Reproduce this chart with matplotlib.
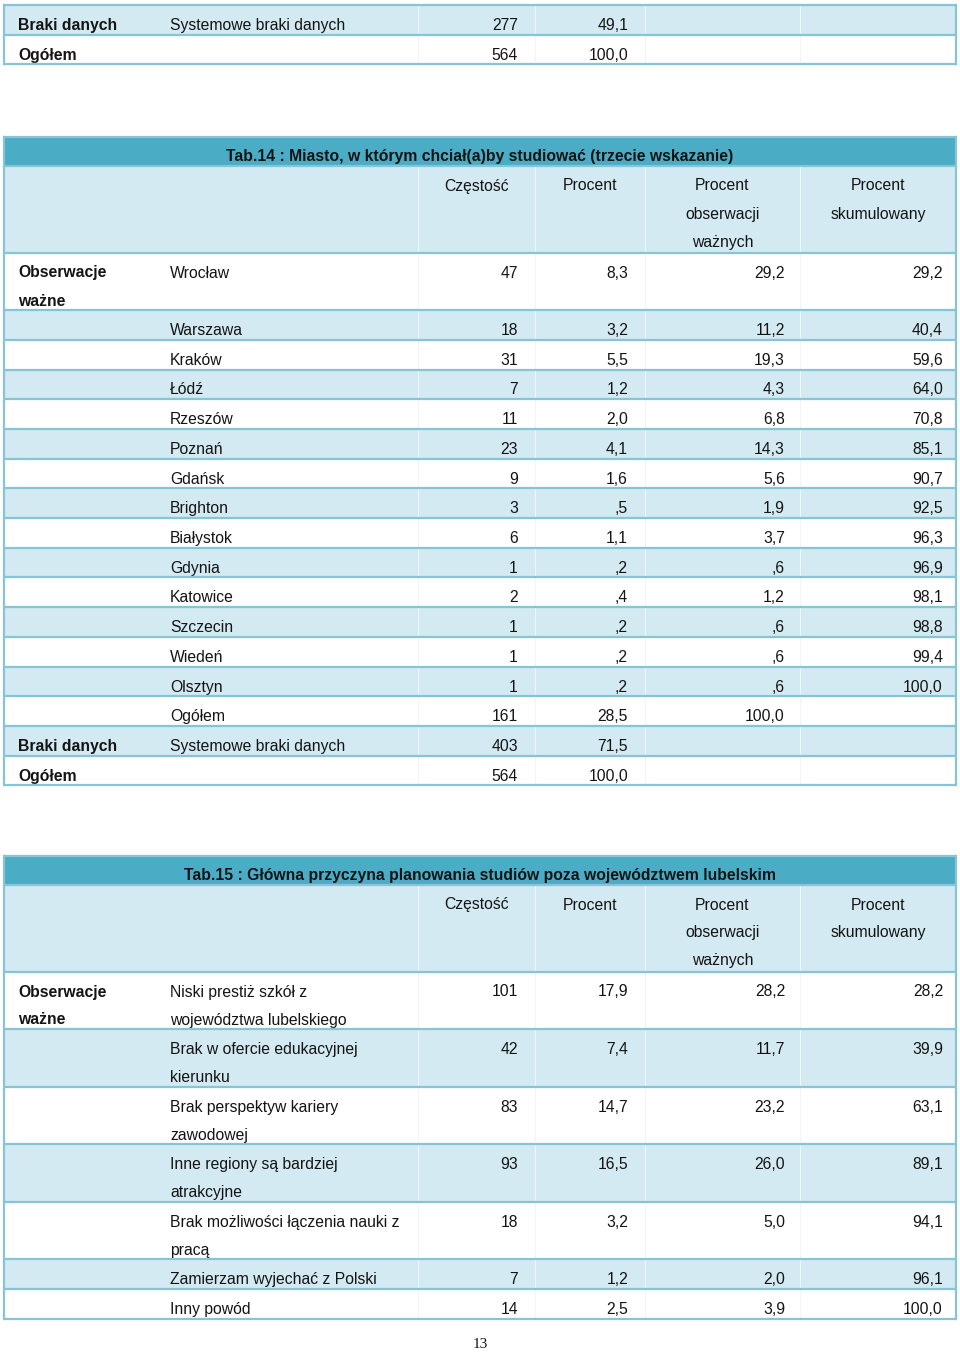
import matplotlib.pyplot as plt
from matplotlib.patches import Rectangle

plt.rcParams['font.family'] = ['Liberation Sans', 'DejaVu Sans']

# --- data -------------------------------------------------------------
header = ['Częstość', 'Procent', 'Procent\nobserwacji\nważnych', 'Procent\nskumulowany']

# tail of the previous table (Tab.13)
t13_missing = [277, 49.1]
t13_total = [564, 100.0]

# Tab.14
t14_title = 'Tab.14 : Miasto, w którym chciał(a)by studiować (trzecie wskazanie)'
t14_cities = ['Wrocław', 'Warszawa', 'Kraków', 'Łódź', 'Rzeszów', 'Poznań', 'Gdańsk',
              'Brighton', 'Białystok', 'Gdynia', 'Katowice', 'Szczecin', 'Wiedeń', 'Olsztyn']
t14_freq = [47, 18, 31, 7, 11, 23, 9, 3, 6, 1, 2, 1, 1, 1]
t14_pct = [8.3, 3.2, 5.5, 1.2, 2.0, 4.1, 1.6, 0.5, 1.1, 0.2, 0.4, 0.2, 0.2, 0.2]
t14_valid = [29.2, 11.2, 19.3, 4.3, 6.8, 14.3, 5.6, 1.9, 3.7, 0.6, 1.2, 0.6, 0.6, 0.6]
t14_cum = [29.2, 40.4, 59.6, 64.0, 70.8, 85.1, 90.7, 92.5, 96.3, 96.9, 98.1, 98.8, 99.4, 100.0]
t14_valid_total = [161, 28.5, 100.0]
t14_missing = [403, 71.5]
t14_total = [564, 100.0]

# Tab.15
t15_title = 'Tab.15 : Główna przyczyna planowania studiów poza województwem lubelskim'
t15_reasons = ['Niski prestiż szkół z\nwojewództwa lubelskiego',
               'Brak w ofercie edukacyjnej\nkierunku',
               'Brak perspektyw kariery\nzawodowej',
               'Inne regiony są bardziej\natrakcyjne',
               'Brak możliwości łączenia nauki z\npracą',
               'Zamierzam wyjechać z Polski',
               'Inny powód']
t15_freq = [101, 42, 83, 93, 18, 7, 14]
t15_pct = [17.9, 7.4, 14.7, 16.5, 3.2, 1.2, 2.5]
t15_valid = [28.2, 11.7, 23.2, 26.0, 5.0, 2.0, 3.9]
t15_cum = [28.2, 39.9, 63.1, 89.1, 94.1, 96.1, 100.0]

# --- style ------------------------------------------------------------
TITLE_BG = '#4BACC6'
STRIPE = '#D3EAF2'
RULE = '#86C5D5'
FAINT = '#EEF6F9'
TXT = '#141414'
FS = 11.3
X0, X1 = 3, 957
COL_X = [18, 170]                 # left-aligned label columns
COL_EDGES = [418, 535, 645, 800, 957]
NUM_PAD = [17, 17, 15, 14]
ROW_H = {1: 29.7, 2: 57.6, 3: 87.0}


def fmt(v):
    if v is None:
        return ''
    if isinstance(v, int):
        return str(v)
    s = f'{v:.1f}'.replace('.', ',')
    return s[1:] if s.startswith('0,') else s


fig = plt.figure(figsize=(9.6, 13.52), dpi=100)
ax = fig.add_axes([0, 0, 1, 1])
ax.set_xlim(0, 960)
ax.set_ylim(1352, 0)
ax.axis('off')


def put(x, top, s, ha='left', bold=False):
    for k, line in enumerate(s.split('\n')):
        ax.text(x, top + 25 + 28 * k, line, ha=ha, va='baseline', fontsize=FS,
                fontweight='bold' if bold else 'normal', color=TXT)


def draw_rows(top, rows, title=None):
    """rows: (bold label, label, [values], header?, striped?)"""
    y = top
    edges = [y]
    if title:
        ax.add_patch(Rectangle((X0, y), X1 - X0, 28.5, color=TITLE_BG, lw=0))
        ax.text(480, y + 23.8, title, ha='center', va='baseline', fontsize=FS,
                fontweight='bold', color=TXT)
        y += 28.5
        edges.append(y)
    body_top = y
    for lab1, lab2, vals, is_head, striped in rows:
        n = max(s.count('\n') + 1 for s in [lab1, lab2] + vals)
        h = ROW_H[n]
        if striped:
            ax.add_patch(Rectangle((X0, y), X1 - X0, h, color=STRIPE, lw=0))
        put(COL_X[0], y, lab1, bold=True)
        put(COL_X[1], y, lab2)
        for j, v in enumerate(vals):
            left, right = COL_EDGES[j], COL_EDGES[j + 1]
            if is_head:
                put((left + right) / 2, y, v, ha='center')
            else:
                put(right - NUM_PAD[j], y, v, ha='right')
        y += h
        edges.append(y)
    for xe in COL_EDGES[:-1]:
        ax.plot([xe, xe], [body_top, y], color=FAINT, lw=0.8, zorder=1)
    for e in edges:
        ax.plot([X0, X1], [e, e], color=RULE, lw=1.6, zorder=3, solid_capstyle='butt')
    for xe in (X0 + 1, X1 - 1):
        ax.plot([xe, xe], [top, y], color=RULE, lw=1.6, zorder=3)
    return y


# tail of Tab.13
draw_rows(5, [
    ('Braki danych', 'Systemowe braki danych', [fmt(v) for v in t13_missing] + ['', ''], False, True),
    ('Ogółem', '', [fmt(v) for v in t13_total] + ['', ''], False, False),
])

# Tab.14
rows14 = [('', '', header, True, True)]
for i, city in enumerate(t14_cities):
    rows14.append(('Obserwacje\nważne' if i == 0 else '', city,
                   [fmt(t14_freq[i]), fmt(t14_pct[i]), fmt(t14_valid[i]), fmt(t14_cum[i])],
                   False, i % 2 == 1))
rows14.append(('', 'Ogółem', [fmt(v) for v in t14_valid_total] + [''], False, False))
rows14.append(('Braki danych', 'Systemowe braki danych',
               [fmt(v) for v in t14_missing] + ['', ''], False, True))
rows14.append(('Ogółem', '', [fmt(v) for v in t14_total] + ['', ''], False, False))
draw_rows(137, rows14, t14_title)

# Tab.15
rows15 = [('', '', header, True, True)]
for i, reason in enumerate(t15_reasons):
    rows15.append(('Obserwacje\nważne' if i == 0 else '', reason,
                   [fmt(t15_freq[i]), fmt(t15_pct[i]), fmt(t15_valid[i]), fmt(t15_cum[i])],
                   False, i % 2 == 1))
draw_rows(856, rows15, t15_title)

ax.text(480, 1344, '13', ha='center', va='center', fontsize=11,
        family='Liberation Serif', color=TXT)

fig.savefig('out.png', dpi=100)
